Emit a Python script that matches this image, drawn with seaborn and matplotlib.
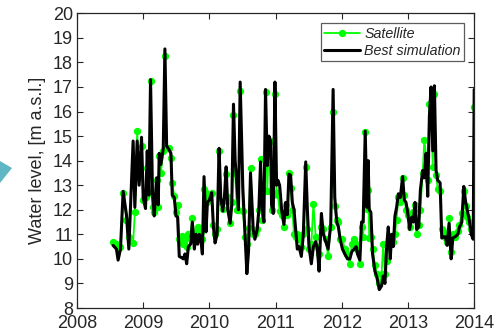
import matplotlib
matplotlib.use("Agg")
import matplotlib.pyplot as plt
from matplotlib.patches import Polygon
import numpy as np
import pandas as pd
import seaborn as sns

# Decimal-year dates of the altimetry passes
dates = [
    2008.545, 2008.596, 2008.621, 2008.657, 2008.697, 2008.747, 2008.783, 2008.848,
    2008.874, 2008.909, 2008.939, 2008.975, 2009.000, 2009.035, 2009.061, 2009.086,
    2009.111, 2009.141, 2009.167, 2009.202, 2009.227, 2009.242, 2009.268, 2009.303,
    2009.328, 2009.354, 2009.389, 2009.419, 2009.439, 2009.470, 2009.495, 2009.520,
    2009.545, 2009.581, 2009.606, 2009.631, 2009.657, 2009.682, 2009.717, 2009.742,
    2009.773, 2009.798, 2009.823, 2009.848, 2009.874, 2009.894, 2009.919, 2009.949,
    2009.970, 2010.000, 2010.035, 2010.061, 2010.086, 2010.116, 2010.146, 2010.172,
    2010.202, 2010.227, 2010.253, 2010.278, 2010.313, 2010.338, 2010.364, 2010.389,
    2010.414, 2010.439, 2010.465, 2010.505, 2010.540, 2010.566, 2010.591,
    2010.621, 2010.662, 2010.687, 2010.722, 2010.747, 2010.773, 2010.798, 2010.823,
    2010.848, 2010.874, 2010.899, 2010.924, 2010.939, 2010.965, 2010.990, 2011.015,
    2011.035, 2011.061, 2011.091, 2011.126, 2011.152, 2011.177, 2011.202, 2011.227,
    2011.253, 2011.278, 2011.303, 2011.328, 2011.354, 2011.389, 2011.419, 2011.455,
    2011.480, 2011.505, 2011.540, 2011.571, 2011.606, 2011.631, 2011.657, 2011.692,
    2011.722, 2011.758, 2011.793, 2011.833, 2011.869, 2011.894, 2011.924, 2011.949,
    2011.975, 2012.010, 2012.045, 2012.086, 2012.121, 2012.152, 2012.187, 2012.217,
    2012.237, 2012.273, 2012.298, 2012.323, 2012.354, 2012.379, 2012.399, 2012.414,
    2012.439, 2012.465, 2012.500, 2012.530, 2012.566, 2012.601, 2012.626, 2012.652,
    2012.677, 2012.702, 2012.732, 2012.753, 2012.778, 2012.803, 2012.828, 2012.854,
    2012.884, 2012.919, 2012.944, 2012.970, 2012.995, 2013.025, 2013.056, 2013.081,
    2013.106, 2013.131, 2013.162, 2013.187, 2013.222, 2013.247, 2013.273, 2013.298,
    2013.323, 2013.348, 2013.374, 2013.399, 2013.424, 2013.449, 2013.485, 2013.510,
    2013.540, 2013.566, 2013.591, 2013.621, 2013.652, 2013.677, 2013.712, 2013.753,
    2013.778, 2013.813, 2013.843, 2013.869, 2013.894, 2013.924, 2013.955, 2013.985,
    2014.000,
]

# Satellite-derived water level [m a.s.l.]
satellite = [
    10.70, 10.60, 10.55, 10.50, 12.70, 11.60, 10.90, 10.65,
    11.90, 15.20, 13.30, 14.60, 12.40, 12.50, 13.70, 12.70,
    17.25, 12.10, 11.90, 13.20, 12.10, 14.20, 13.50, 14.40,
    18.25, 14.50, 14.50, 14.10, 13.10, 12.55, 11.90, 12.20,
    10.80, 10.95, 10.60, 10.80, 10.50, 11.00, 11.00, 11.65,
    11.00, 11.10, 11.30, 11.20, 11.10, 10.80, 12.85, 12.70,
    12.30, 12.60, 12.70, 11.40, 11.00, 11.20, 14.40, 12.30,
    12.05, 12.35, 13.45, 12.50, 11.45, 12.30, 15.85, 13.50,
    12.00, 12.00, 16.85, 11.95, 10.90, 10.60, 11.25,
    13.70, 11.00, 11.00, 11.20, 12.00, 14.05, 11.60, 12.80,
    16.80, 12.75, 14.80, 14.80, 12.00, 12.60, 16.70, 12.70,
    12.60, 11.95, 11.80, 11.30, 12.20, 11.80, 13.50, 12.90,
    12.00, 11.00, 10.90, 11.00, 10.80, 10.50, 11.00, 13.75,
    11.20, 10.40, 10.60, 12.25, 10.90, 10.50, 10.20, 11.30,
    11.20, 10.80, 10.10, 11.30, 16.00, 12.15, 11.60, 11.50,
    10.80, 10.80, 10.40, 10.20, 9.80, 10.60, 10.80, 10.60,
    10.40, 9.80, 11.30, 10.90, 15.15, 12.05, 12.80, 10.85,
    10.90, 10.40, 9.75, 9.40, 9.00, 9.40, 10.60, 9.40,
    9.90, 10.50, 10.90, 10.80, 10.70, 11.00, 11.60, 12.50,
    12.30, 13.30, 12.60, 12.00, 11.80, 11.30, 11.70, 11.90,
    12.20, 11.00, 11.40, 12.00, 13.50, 14.85, 14.20, 13.20,
    16.30, 16.30, 13.75, 16.70, 13.40, 12.85, 12.75, 11.20,
    11.10, 10.90, 10.70, 11.65, 10.30, 11.00, 10.90, 11.15,
    11.40, 11.85, 12.75, 12.15, 11.70, 11.50, 11.20, 11.10,
    16.20,
]

# Best model run [m a.s.l.]
simulation = [
    10.55, 10.40, 9.95, 10.40, 12.75, 11.80, 10.40, 14.80,
    12.10, 14.80, 13.00, 14.95, 12.50, 12.05, 14.40, 12.60,
    17.30, 12.60, 11.75, 13.30, 12.20, 14.30, 13.85, 14.50,
    18.55, 14.60, 14.45, 14.30, 12.60, 12.50, 11.75, 11.70,
    10.10, 10.05, 10.00, 10.20, 9.80, 10.50, 10.60, 11.50,
    10.40, 11.00, 10.60, 11.00, 10.70, 10.20, 13.35, 11.10,
    12.30, 12.40, 12.70, 11.30, 10.65, 11.00, 14.50, 12.50,
    11.95, 12.50, 13.75, 12.00, 11.45, 12.20, 16.30, 14.00,
    13.10, 12.00, 17.20, 12.90, 10.90, 9.40, 10.30,
    13.50, 11.20, 10.80, 11.20, 12.00, 13.95, 12.00, 11.50,
    16.90, 13.80, 15.00, 14.80, 12.20, 11.85, 17.20, 13.00,
    13.20, 13.00, 12.00, 11.40, 12.30, 11.80, 13.45, 13.40,
    12.30, 12.00, 11.20, 10.40, 10.50, 10.10, 11.00, 13.95,
    12.00, 10.50, 9.80, 10.50, 10.70, 10.40, 9.50, 11.85,
    11.00, 10.70, 10.40, 11.40, 16.90, 12.50, 11.50, 11.30,
    10.80, 10.40, 10.20, 10.00, 10.00, 10.30, 10.40, 10.50,
    10.20, 9.95, 11.50, 11.50, 15.20, 12.10, 14.00, 12.00,
    11.90, 10.20, 9.50, 9.25, 8.75, 8.90, 9.30, 9.00,
    10.50, 11.30, 10.00, 11.00, 10.50, 11.75, 12.10, 12.65,
    12.50, 13.35, 12.40, 12.30, 11.90, 11.20, 11.70, 11.50,
    12.30, 11.20, 11.30, 12.80, 13.60, 13.30, 14.30, 12.55,
    15.80, 17.00, 14.40, 17.05, 13.60, 13.20, 13.10, 10.85,
    10.90, 10.90, 10.55, 11.45, 10.00, 10.85, 10.90, 11.00,
    11.30, 11.50, 12.95, 12.35, 12.00, 11.60, 11.00, 10.80,
    16.90,
]

year_ticks = [2008, 2009, 2010, 2011, 2012, 2013, 2014]
level_ticks = [8, 9, 10, 11, 12, 13, 14, 15, 16, 17, 18, 19, 20]

df = pd.DataFrame({"date": dates, "Satellite": satellite, "Best simulation": simulation})

sns.set_style("white")
plt.rcParams["font.family"] = ["Liberation Sans", "DejaVu Sans"]

ink = "#262626"
fig = plt.figure(figsize=(4.98, 3.36), dpi=100)
ax = fig.add_axes([0.1546, 0.0833, 0.7976, 0.8771])

sns.lineplot(data=df, x="date", y="Satellite", ax=ax, color="#00ff00", lw=1.3,
             marker="o", markersize=4.5, markeredgecolor="#00ff00",
             label="Satellite", sort=False)
sns.lineplot(data=df, x="date", y="Best simulation", ax=ax, color="black", lw=2.2,
             label="Best simulation", sort=False)

ax.set_xlim(2008, 2014)
ax.set_ylim(8, 20)
ax.set_xticks(year_ticks)
ax.set_yticks(level_ticks)
ax.set_xticklabels([str(y) for y in year_ticks])
ax.set_xlabel("")
ax.set_ylabel("Water level, [m a.s.l.]", fontsize=13, color=ink, labelpad=5)

ax.tick_params(axis="both", which="both", direction="in", length=4, width=0.8,
               top=True, right=True, bottom=True, left=True,
               labelsize=13, colors=ink)
ax.tick_params(axis="x", pad=5)
ax.tick_params(axis="y", pad=3)
for side in ax.spines.values():
    side.set_color(ink)
    side.set_linewidth(0.9)

leg = ax.legend(loc="upper right", fontsize=10.3, frameon=True, fancybox=False,
                borderaxespad=0.7, handlelength=2.5, borderpad=0.25,
                labelspacing=0.2, handletextpad=0.3)
leg.get_frame().set_edgecolor("#333333")
leg.get_frame().set_linewidth(0.9)
for txt in leg.get_texts():
    txt.set_fontstyle("italic")
    txt.set_color(ink)

# Teal arrowhead at the left margin
fig.patches.append(Polygon([(0.0, 1 - 161 / 336), (12 / 498, 1 - 168 / 336), (0.0, 1 - 183 / 336)],
                           closed=True, transform=fig.transFigure,
                           facecolor="#5eb7c3", edgecolor="none"))

fig.savefig("out.png", dpi=100)
